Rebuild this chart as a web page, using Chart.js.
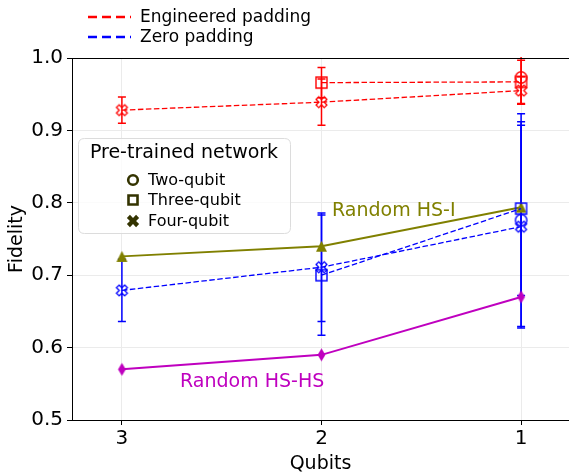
<!DOCTYPE html>
<html><head><meta charset="utf-8">
<script src="https://cdn.jsdelivr.net/npm/chart.js@4"></script>
<style>html,body{margin:0;padding:0;background:#fff;overflow:hidden}#wrap{width:569px;height:475px}</style>
</head><body><div id="wrap"><canvas id="c" width="569" height="475"></canvas></div>
<script>
// ---- data ----
const qubits = [3, 2, 1];
const yTicks = [0.5, 0.6, 0.7, 0.8, 0.9, 1.0];
// Engineered padding (red)
const engFourQ = [0.928, 0.939, 0.955];      // qubits 3,2,1
const engFourQErr = [0.018, 0.032, 0.019];
const engThreeQ = [0.966, 0.967];            // qubits 2,1
const engThreeQErr = [0.021, 0.030];
const engTwoQ = [0.973];                     // qubit 1
const engTwoQErr = [0.037];
// Zero padding (blue)
const zeroFourQ = [0.679, 0.711, 0.767];
const zeroFourQErr = [0.043, 0.075, 0.140];
const zeroThreeQ = [0.700, 0.792];
const zeroThreeQErr = [0.083, 0.120];
const zeroTwoQ = [0.776];
const zeroTwoQErr = [0.147];
// Random baselines
const randomHSI = [0.726, 0.740, 0.794];
const randomHSHS = [0.570, 0.590, 0.670];

const FONT = 'DejaVu Sans';
const RED = '#ff0000', BLUE = '#0000ff', OLIVE = '#808000', MAG = '#bf00bf', LEG = '#333300';

// ---- marker canvases ----
function xPath(ctx, cx, cy, size) {
  const pts = [[-1,-3],[1,-3],[1,-1],[3,-1],[3,1],[1,1],[1,3],[-1,3],[-1,1],[-3,1],[-3,-1],[-1,-1]];
  const c = Math.SQRT1_2;
  ctx.beginPath();
  pts.forEach((p, i) => {
    const px = p[0] / 6 * size, py = p[1] / 6 * size;
    const rx = (px - py) * c, ry = (px + py) * c;
    if (i === 0) ctx.moveTo(cx + rx, cy + ry); else ctx.lineTo(cx + rx, cy + ry);
  });
  ctx.closePath();
}
function makeMarker(type, color, fill, size, lw) {
  const cv = document.createElement('canvas');
  const s = Math.ceil(size + lw + 4);
  cv.width = s; cv.height = s;
  const ctx = cv.getContext('2d');
  const c = s / 2;
  ctx.strokeStyle = color; ctx.fillStyle = color; ctx.lineWidth = lw; ctx.lineJoin = 'miter';
  if (type === 'circle') { ctx.beginPath(); ctx.arc(c, c, size / 2, 0, Math.PI * 2); }
  else if (type === 'square') { ctx.beginPath(); ctx.rect(c - size / 2, c - size / 2, size, size); }
  else if (type === 'x') { xPath(ctx, c, c, size * 1.05); }
  else if (type === 'tri') { ctx.beginPath(); ctx.moveTo(c, c - size / 2); ctx.lineTo(c + size / 2, c + size / 2); ctx.lineTo(c - size / 2, c + size / 2); ctx.closePath(); }
  else if (type === 'thin') { ctx.beginPath(); ctx.moveTo(c, c - size / 2); ctx.lineTo(c + size * 0.3, c); ctx.lineTo(c, c + size / 2); ctx.lineTo(c - size * 0.3, c); ctx.closePath(); }
  if (fill) ctx.fill(); else ctx.stroke();
  return cv;
}

const mk = {
  rc: makeMarker('circle', RED, false, 11.5, 1.4),
  rs: makeMarker('square', RED, false, 11, 1.4),
  rx: makeMarker('x', RED, false, 11, 1.3),
  bc: makeMarker('circle', BLUE, false, 11.5, 1.4),
  bs: makeMarker('square', BLUE, false, 11, 1.4),
  bx: makeMarker('x', BLUE, false, 11, 1.3),
  tri: makeMarker('tri', OLIVE, true, 11, 0),
  dia: makeMarker('thin', MAG, true, 13, 0)
};

function pts(xs, ys) { return ys.map((v, i) => ({ x: xs[i], y: v })); }
function dashed(label, color, xs, ys, errs, marker) {
  return { label, data: pts(xs, ys), errors: errs, borderColor: color, backgroundColor: color,
    borderWidth: 1.3, borderDash: [5.5, 2.5], pointStyle: marker, pointRadius: 6, pointHoverRadius: 6,
    showLine: true, fill: false, tension: 0 };
}

const datasets = [
  dashed('eng4', RED, qubits, engFourQ, engFourQErr, mk.rx),
  dashed('eng3', RED, qubits.slice(1), engThreeQ, engThreeQErr, mk.rs),
  dashed('eng2', RED, qubits.slice(2), engTwoQ, engTwoQErr, mk.rc),
  dashed('zero4', BLUE, qubits, zeroFourQ, zeroFourQErr, mk.bx),
  dashed('zero3', BLUE, qubits.slice(1), zeroThreeQ, zeroThreeQErr, mk.bs),
  dashed('zero2', BLUE, qubits.slice(2), zeroTwoQ, zeroTwoQErr, mk.bc),
  { label: 'Random HS-I', data: pts(qubits, randomHSI), borderColor: OLIVE, backgroundColor: OLIVE,
    borderWidth: 2, pointStyle: mk.tri, pointRadius: 6, showLine: true, tension: 0 },
  { label: 'Random HS-HS', data: pts(qubits, randomHSHS), borderColor: MAG, backgroundColor: MAG,
    borderWidth: 2, pointStyle: mk.dia, pointRadius: 6, showLine: true, tension: 0 }
];

const errorBars = {
  id: 'errorBars',
  beforeDatasetsDraw(chart) {
    const { ctx, chartArea: a, scales: { x, y } } = chart;
    ctx.save();
    ctx.beginPath(); ctx.rect(a.left, a.top - 1, a.right - a.left, a.bottom - a.top + 2); ctx.clip();
    chart.data.datasets.forEach(ds => {
      if (!ds.errors) return;
      ctx.strokeStyle = ds.borderColor; ctx.lineWidth = 1.5; ctx.setLineDash([]);
      ds.data.forEach((p, i) => {
        const e = ds.errors[i];
        const px = x.getPixelForValue(p.x);
        const yt = y.getPixelForValue(p.y + e), yb = y.getPixelForValue(p.y - e);
        ctx.beginPath();
        ctx.moveTo(px, yt); ctx.lineTo(px, yb);
        ctx.moveTo(px - 4, yt); ctx.lineTo(px + 4, yt);
        ctx.moveTo(px - 4, yb); ctx.lineTo(px + 4, yb);
        ctx.stroke();
      });
    });
    ctx.restore();
  }
};

const decorations = {
  id: 'decorations',
  afterDraw(chart) {
    const { ctx, chartArea: a } = chart;
    ctx.save();
    // top spine
    ctx.strokeStyle = '#000'; ctx.lineWidth = 1; ctx.setLineDash([]);
    ctx.beginPath(); ctx.moveTo(a.left, a.top + 0.5); ctx.lineTo(a.right, a.top + 0.5); ctx.stroke();

    // top legend
    ctx.font = '17px "' + FONT + '"'; ctx.textBaseline = 'middle'; ctx.textAlign = 'left';
    [[RED, 'Engineered padding', 17], [BLUE, 'Zero padding', 37]].forEach(([c, t, yy]) => {
      ctx.strokeStyle = c; ctx.lineWidth = 2.5; ctx.setLineDash([9, 5]);
      ctx.beginPath(); ctx.moveTo(88, yy); ctx.lineTo(131, yy); ctx.stroke();
      ctx.setLineDash([]);
      ctx.fillStyle = '#000'; ctx.fillText(t, 140, yy + 1);
    });

    // inner legend box
    const bx = 78.5, by = 138.5, bw = 212, bh = 95, r = 6;
    ctx.beginPath();
    ctx.moveTo(bx + r, by); ctx.lineTo(bx + bw - r, by); ctx.quadraticCurveTo(bx + bw, by, bx + bw, by + r);
    ctx.lineTo(bx + bw, by + bh - r); ctx.quadraticCurveTo(bx + bw, by + bh, bx + bw - r, by + bh);
    ctx.lineTo(bx + r, by + bh); ctx.quadraticCurveTo(bx, by + bh, bx, by + bh - r);
    ctx.lineTo(bx, by + r); ctx.quadraticCurveTo(bx, by, bx + r, by); ctx.closePath();
    ctx.fillStyle = 'rgba(255,255,255,0.8)'; ctx.fill();
    ctx.strokeStyle = '#dcdcdc'; ctx.lineWidth = 1; ctx.stroke();
    ctx.fillStyle = '#000'; ctx.font = '19px "' + FONT + '"'; ctx.textAlign = 'center';
    ctx.fillText('Pre-trained network', 184, 153);
    ctx.textAlign = 'left'; ctx.font = '16px "' + FONT + '"';
    const items = [['circle', 'Two-qubit', 180], ['square', 'Three-qubit', 200], ['x', 'Four-qubit', 221]];
    items.forEach(([t, label, yy]) => {
      ctx.strokeStyle = LEG; ctx.fillStyle = LEG; ctx.lineWidth = 2.6;
      const mx = 133;
      if (t === 'circle') { ctx.beginPath(); ctx.arc(mx, yy, 4.8, 0, Math.PI * 2); ctx.stroke(); }
      else if (t === 'square') { ctx.beginPath(); ctx.rect(mx - 4.5, yy - 4.5, 9, 9); ctx.stroke(); }
      else { xPath(ctx, mx, yy, 13); ctx.fill(); }
      ctx.fillStyle = '#000'; ctx.fillText(label, 148, yy + 1);
    });

    // annotations
    ctx.font = '19px "' + FONT + '"'; ctx.textAlign = 'left';
    ctx.fillStyle = OLIVE; ctx.fillText('Random HS-I', 332, 211);
    ctx.fillStyle = MAG; ctx.fillText('Random HS-HS', 180, 382);
    ctx.restore();
  }
};

new Chart(document.getElementById('c'), {
  type: 'scatter',
  data: { datasets },
  options: {
    responsive: false, devicePixelRatio: 1, animation: false,
    layout: { autoPadding: false, padding: { top: 58, left: 0, right: 0, bottom: 0 } },
    plugins: { legend: { display: false }, tooltip: { enabled: false } },
    events: [],
    scales: {
      x: {
        type: 'linear', reverse: true, min: 0.76, max: 3.25,
        afterBuildTicks: s => { s.ticks = qubits.map(v => ({ value: v })); },
        afterFit: s => { s.height = 55; s.paddingLeft = 0; s.paddingRight = 0; },
        grid: { color: '#ebebeb', lineWidth: 1, tickColor: '#000', tickLength: 5 },
        border: { display: true, color: '#000', width: 1 },
        ticks: { color: '#000', font: { family: FONT, size: 20 }, padding: 2, autoSkip: false, maxRotation: 0,
          callback: v => String(v) },
        title: { display: true, text: 'Qubits', color: '#000', font: { family: FONT, size: 19 }, padding: { top: 2, bottom: 0 } }
      },
      y: {
        min: 0.5, max: 1.0,
        afterBuildTicks: s => { s.ticks = yTicks.map(v => ({ value: v })); },
        afterFit: s => { s.width = 72; s.paddingTop = 0; s.paddingBottom = 0; },
        grid: { color: '#ebebeb', lineWidth: 1, tickColor: '#000', tickLength: 5 },
        border: { display: true, color: '#000', width: 1 },
        ticks: { color: '#000', font: { family: FONT, size: 20 }, padding: 4, callback: v => v.toFixed(1) },
        title: { display: true, text: 'Fidelity', color: '#000', font: { family: FONT, size: 19 }, padding: { top: 6, bottom: 0 } }
      }
    }
  },
  plugins: [errorBars, decorations]
});
</script></body></html>
